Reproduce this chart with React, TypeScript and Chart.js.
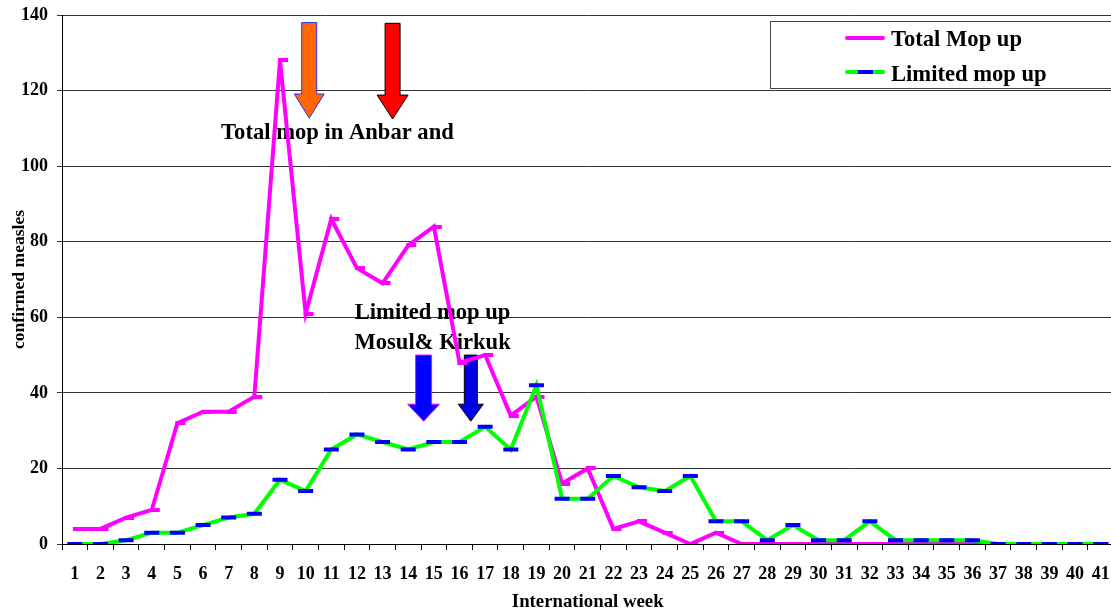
import React, { useEffect, useRef } from 'react';
import { Chart, registerables } from 'chart.js';

Chart.register(...registerables);

// ---------------- data ----------------
const weeks = [
  '1', '2', '3', '4', '5', '6', '7', '8', '9', '10',
  '11', '12', '13', '14', '15', '16', '17', '18', '19', '20',
  '21', '22', '23', '24', '25', '26', '27', '28', '29', '30',
  '31', '32', '33', '34', '35', '36', '37', '38', '39', '40', '41',
];

const totalMopUp = [
  4, 4, 7, 9, 32, 35, 35, 39, 128, 61,
  86, 73, 69, 79, 84, 48, 50, 34, 39, 16,
  20, 4, 6, 3, 0, 3, 0, 0, 0, 0,
  0, 0, 0, 0, 0, 0, 0, 0, 0, 0, 0,
];

const limitedMopUp = [
  0, 0, 1, 3, 3, 5, 7, 8, 17, 14,
  25, 29, 27, 25, 27, 27, 31, 25, 42, 12,
  12, 18, 15, 14, 18, 6, 6, 1, 5, 1,
  1, 6, 1, 1, 1, 1, 0, 0, 0, 0, 0,
];

const yTicks = { min: 0, max: 140, step: 20 };

const seriesNames = ['Total Mop up', 'Limited mop up'];
const axisTitles = { x: 'International week', y: 'confirmed measles' };

// annotation arrows: position in week / value units
const arrows = [
  { week: 10.14, top: 138.0, headStart: 119.1, tip: 112.7, shaft: 15, head: 30, fill: '#FF6600', stroke: '#2233FF' },
  { week: 13.39, top: 137.8, headStart: 118.8, tip: 112.5, shaft: 15, head: 31, fill: '#FF0000', stroke: '#000000' },
  { week: 14.60, top: 50.0, headStart: 37.0, tip: 32.5, shaft: 16, head: 32, fill: '#0000FF', stroke: '#FF00FF' },
  { week: 16.44, top: 50.0, headStart: 37.0, tip: 32.5, shaft: 13, head: 25, fill: '#0000E6', stroke: '#000000' },
];

const notes = [
  { lines: ['Total mop in Anbar and'], week: 11.24, values: [108.8] },
  { lines: ['Limited mop up', 'Mosul& Kirkuk'], week: 14.95, values: [61.1, 53.2] },
];

// ---------------- styles ----------------
const SERIF = '"Liberation Serif", "Times New Roman", serif';
const MAGENTA = '#FF00FF';
const GREEN = '#00FF00';
const BLUE = '#0000FF';

const annotationPlugin = {
  id: 'mopAnnotations',
  beforeDatasetsDraw(chart: any) {
    const { ctx, scales } = chart;
    const x = scales.x;
    const y = scales.y;
    ctx.save();
    for (const a of arrows) {
      const cx = x.getPixelForValue(a.week - 1);
      const yTop = y.getPixelForValue(a.top);
      const yHead = y.getPixelForValue(a.headStart);
      const yTip = y.getPixelForValue(a.tip);
      const hs = a.shaft / 2;
      const hh = a.head / 2;
      ctx.beginPath();
      ctx.moveTo(cx - hs, yTop);
      ctx.lineTo(cx + hs, yTop);
      ctx.lineTo(cx + hs, yHead);
      ctx.lineTo(cx + hh, yHead);
      ctx.lineTo(cx, yTip);
      ctx.lineTo(cx - hh, yHead);
      ctx.lineTo(cx - hs, yHead);
      ctx.closePath();
      ctx.fillStyle = a.fill;
      ctx.fill();
      ctx.lineWidth = 1;
      ctx.lineJoin = 'miter';
      ctx.strokeStyle = a.stroke;
      ctx.stroke();
    }
    ctx.fillStyle = '#000';
    ctx.font = `bold 22.6px ${SERIF}`;
    ctx.textAlign = 'center';
    ctx.textBaseline = 'middle';
    for (const t of notes) {
      t.lines.forEach((line, i) => {
        ctx.fillText(line, x.getPixelForValue(t.week - 1), y.getPixelForValue(t.values[i]));
      });
    }
    ctx.restore();
  },
};

const legendPlugin = {
  id: 'boxLegend',
  afterDraw(chart: any) {
    const { ctx } = chart;
    ctx.save();
    ctx.fillStyle = '#fff';
    ctx.fillRect(770, 21, 420, 68);
    ctx.strokeStyle = '#444';
    ctx.lineWidth = 1;
    ctx.strokeRect(770.5, 21.5, 420, 67);

    ctx.lineWidth = 4;
    ctx.lineCap = 'round';
    ctx.strokeStyle = MAGENTA;
    ctx.beginPath();
    ctx.moveTo(847, 38);
    ctx.lineTo(883, 38);
    ctx.stroke();

    ctx.strokeStyle = GREEN;
    ctx.beginPath();
    ctx.moveTo(847, 72);
    ctx.lineTo(883, 72);
    ctx.stroke();
    ctx.lineCap = 'butt';
    ctx.strokeStyle = BLUE;
    ctx.beginPath();
    ctx.moveTo(858, 72);
    ctx.lineTo(873, 72);
    ctx.stroke();

    ctx.fillStyle = '#000';
    ctx.font = `bold 22.6px ${SERIF}`;
    ctx.textAlign = 'left';
    ctx.textBaseline = 'middle';
    ctx.fillText(seriesNames[0], 891, 40);
    ctx.fillText(seriesNames[1], 891, 75);
    ctx.restore();
  },
};

export default function App() {
  const ref = useRef<HTMLCanvasElement>(null);

  useEffect(() => {
    const canvas = ref.current;
    if (!canvas) return;

    // magenta dash marker, drawn slightly to the right of the point like the original
    const dash = document.createElement('canvas');
    dash.width = 20;
    dash.height = 4;
    const dctx = dash.getContext('2d');
    if (dctx) {
      dctx.fillStyle = MAGENTA;
      dctx.fillRect(8, 0, 10, 4);
    }

    const tickFont = { family: SERIF, size: 18, weight: 'bold' as const };

    const chart = new Chart(canvas, {
      type: 'line',
      data: {
        labels: weeks,
        datasets: [
          {
            label: seriesNames[1],
            data: limitedMopUp,
            borderColor: GREEN,
            backgroundColor: GREEN,
            borderWidth: 4,
            tension: 0,
            pointStyle: 'line',
            pointRadius: 7.5,
            pointBorderWidth: 4,
            pointBorderColor: BLUE,
            pointBackgroundColor: BLUE,
            order: 0,
          },
          {
            label: seriesNames[0],
            data: totalMopUp,
            borderColor: MAGENTA,
            backgroundColor: MAGENTA,
            borderWidth: 4,
            tension: 0,
            pointStyle: dash as any,
            pointRadius: 5,
            order: 1,
          },
        ],
      },
      options: {
        responsive: false,
        animation: false,
        devicePixelRatio: 1,
        events: [],
        layout: { padding: { top: 15, right: 2, bottom: 0, left: 0 } },
        plugins: {
          legend: { display: false },
          tooltip: { enabled: false },
        },
        scales: {
          x: {
            type: 'category',
            offset: true,
            grid: {
              offset: true,
              drawOnChartArea: false,
              drawTicks: true,
              tickLength: 6,
              color: '#000',
              lineWidth: 1,
            },
            border: { display: true, color: '#000', width: 1 },
            ticks: {
              font: tickFont,
              color: '#000',
              padding: 14,
              maxRotation: 0,
              minRotation: 0,
              autoSkip: false,
            },
            title: {
              display: true,
              text: axisTitles.x,
              color: '#000',
              font: { family: SERIF, size: 18.8, weight: 'bold', lineHeight: 1 },
              padding: { top: 0, bottom: 0 },
            },
            afterFit: (s: any) => {
              s.height = 68;
              s.paddingLeft = 0;
              s.paddingRight = 0;
            },
          },
          y: {
            min: yTicks.min,
            max: yTicks.max,
            ticks: {
              stepSize: yTicks.step,
              font: tickFont,
              color: '#000',
              padding: 9,
            },
            grid: {
              color: '#333',
              lineWidth: 1,
              tickLength: 5,
              drawTicks: true,
            },
            border: { display: true, color: '#000', width: 1 },
            title: {
              display: true,
              text: axisTitles.y,
              color: '#000',
              font: { family: SERIF, size: 17.6, weight: 'bold', lineHeight: 1 },
              padding: { top: 11, bottom: 0 },
            },
            afterFit: (s: any) => {
              s.width = 62;
              s.paddingTop = 0;
              s.paddingBottom = 0;
            },
          },
        },
      },
      plugins: [annotationPlugin, legendPlugin],
    });

    return () => chart.destroy();
  }, []);

  return (
    <div
      style={{
        position: 'fixed',
        left: 0,
        top: 0,
        width: 1111,
        height: 612,
        overflow: 'hidden',
        background: '#fff',
      }}
    >
      <canvas ref={ref} width={1125} height={612} style={{ display: 'block' }} />
    </div>
  );
}
